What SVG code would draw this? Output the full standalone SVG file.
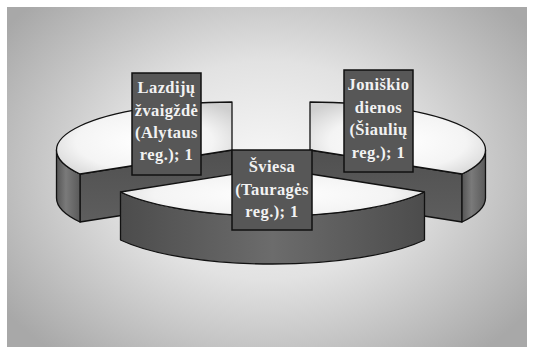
<svg xmlns="http://www.w3.org/2000/svg" width="533" height="353" viewBox="0 0 533 353">
  <defs>
    <radialGradient id="bg" cx="0.5" cy="0.48" r="0.62" gradientTransform="translate(0.5 0.48) scale(1 1.15) translate(-0.5 -0.48)">
      <stop offset="0" stop-color="#f8f8f8"/>
      <stop offset="0.45" stop-color="#e2e2e2"/>
      <stop offset="1" stop-color="#a8a8a8"/>
    </radialGradient>
    <radialGradient id="topface" cx="0.5" cy="0.55" r="0.65">
      <stop offset="0" stop-color="#ffffff"/>
      <stop offset="0.6" stop-color="#f4f4f4"/>
      <stop offset="1" stop-color="#cfcfcf"/>
    </radialGradient>
    <linearGradient id="side" x1="0" y1="0" x2="1" y2="0">
      <stop offset="0" stop-color="#4c4c4c"/>
      <stop offset="0.5" stop-color="#6c6c6c"/>
      <stop offset="1" stop-color="#4c4c4c"/>
    </linearGradient>
    <linearGradient id="narrow" x1="0" y1="0" x2="1" y2="0">
      <stop offset="0" stop-color="#555555"/>
      <stop offset="0.4" stop-color="#7a7a7a"/>
      <stop offset="1" stop-color="#5a5a5a"/>
    </linearGradient>
    <linearGradient id="cut" x1="0" y1="0" x2="0" y2="1">
      <stop offset="0" stop-color="#505050"/>
      <stop offset="1" stop-color="#5e5e5e"/>
    </linearGradient>
  </defs>
  <style>
    .edge { stroke: #111111; stroke-width: 1.3; stroke-linejoin: round; }
    .top { fill: url(#topface); }
    .side { fill: url(#side); }
    .narrow { fill: url(#narrow); }
    .cut { fill: url(#cut); }
    .box { fill: #575757; stroke: #111111; stroke-width: 1.5; }
    .lbl { font-family: "Liberation Serif", "Times New Roman", serif; font-weight: bold; font-size: 16.5px; fill: #f2f2f2; text-anchor: middle; letter-spacing: 0.4px; }
  </style>

  <rect x="0" y="0" width="533" height="353" fill="#ffffff"/>
  <rect x="7" y="7" width="520" height="340" fill="url(#bg)"/>

  <g id="slice-lazdiju">
    <path class="cut edge" d="M 80 174 L 232 150 L 232 198 L 80 222 Z"/>
    <path class="narrow edge" d="M 56.5 150 A 175.5 48 0 0 0 80 174 L 80 222 A 175.5 48 0 0 1 56.5 198 Z"/>
    <path class="top edge" d="M 232 150 L 232 102 A 175.5 48 0 0 0 80 174 Z"/>
  </g>

  <g id="slice-joniskio">
    <path class="cut edge" d="M 310 150 L 462 174 L 462 222 L 310 198 Z"/>
    <path class="narrow edge" d="M 462 174 A 175.5 48 0 0 0 485.5 150 L 485.5 198 A 175.5 48 0 0 1 462 222 Z"/>
    <path class="top edge" d="M 310 150 L 462 174 A 175.5 48 0 0 0 310 102 Z"/>
  </g>

  <g id="slice-sviesa">
    <path class="side edge" d="M 120.5 192 A 175.5 48 0 0 0 424.5 192 L 424.5 240 A 175.5 48 0 0 1 120.5 240 Z"/>
    <path class="top edge" d="M 272.5 168 L 120.5 192 A 175.5 48 0 0 0 424.5 192 Z"/>
  </g>

  <g id="label-lazdiju">
    <rect class="box" x="132" y="73" width="69" height="102"/>
    <text class="lbl" x="166.5" y="93">Lazdijų</text>
    <text class="lbl" x="166.5" y="116">žvaigždė</text>
    <text class="lbl" x="166.5" y="138">(Alytaus</text>
    <text class="lbl" x="166.5" y="160">reg.); 1</text>
  </g>

  <g id="label-joniskio">
    <rect class="box" x="344" y="70" width="69" height="102"/>
    <text class="lbl" x="378.5" y="90">Joniškio</text>
    <text class="lbl" x="378.5" y="113">dienos</text>
    <text class="lbl" x="378.5" y="135">(Šiaulių</text>
    <text class="lbl" x="378.5" y="158">reg.); 1</text>
  </g>

  <g id="label-sviesa">
    <rect class="box" x="232" y="150" width="80" height="80"/>
    <text class="lbl" x="272" y="172">Šviesa</text>
    <text class="lbl" x="272" y="195">(Tauragės</text>
    <text class="lbl" x="272" y="217">reg.); 1</text>
  </g>

  <g id="connectors"/>
</svg>
